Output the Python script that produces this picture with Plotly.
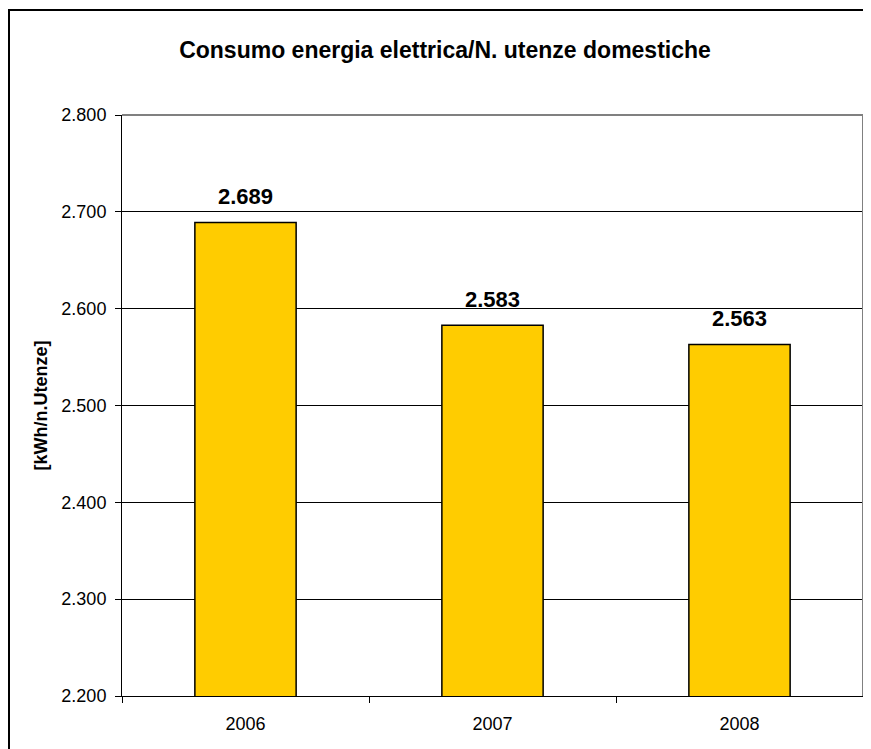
import plotly.graph_objects as go

years = ["2006", "2007", "2008"]
values = [2689, 2583, 2563]
labels = ["2.689", "2.583", "2.563"]
y_ticks = [2200, 2300, 2400, 2500, 2600, 2700, 2800]
y_tick_text = ["2.200", "2.300", "2.400", "2.500", "2.600", "2.700", "2.800"]

# page body has an 8px margin, so the figure is drawn 8px in from the window corner
OFF = 8
W, H = 871 - OFF, 749 - OFF
L, R, T, B = 122 - OFF, 871 - 863, 115 - OFF, 749 - 696
pw = W - L - R
ph = H - T - B

FONT = "Liberation Sans, Arial"

fig = go.Figure()
fig.add_trace(go.Bar(
    x=years, y=values,
    marker=dict(color="#FFCC00", line=dict(color="black", width=1.5)),
    showlegend=False, hoverinfo="skip",
))

for i, (v, t) in enumerate(zip(values, labels)):
    fig.add_annotation(x=i, y=v, text="<b>%s</b>" % t, showarrow=False,
                       yanchor="bottom", yshift=11,
                       font=dict(family=FONT, size=22, color="black"))

fig.update_layout(
    width=W, height=H,
    margin=dict(l=L, r=R, t=T, b=B),
    paper_bgcolor="white", plot_bgcolor="white",
    bargap=0.59,
    font=dict(family=FONT, color="black"),
    title=dict(text="<b>Consumo energia elettrica/N. utenze domestiche</b>",
               x=(445 - OFF) / W, xanchor="center", y=1 - (50 - OFF) / H, yanchor="middle",
               font=dict(size=23, color="black")),
)

fig.update_xaxes(
    type="category", range=[-0.5, len(years) - 0.5], autorange=False,
    showline=True, linecolor="black", linewidth=1,
    ticks="outside", ticklen=6, tickcolor="black", tickson="boundaries",
    tickfont=dict(size=18, color="black"), showgrid=False, automargin=False,
    tickangle=0, ticklabelstandoff=11,
)
fig.update_yaxes(
    range=[2200, 2800], tickvals=y_ticks, ticktext=y_tick_text,
    showline=True, linecolor="black", linewidth=1,
    ticks="outside", ticklen=6, tickcolor="black", ticklabelstandoff=5,
    showgrid=True, gridcolor="black", gridwidth=1,
    tickfont=dict(size=18, color="black"),
    title=dict(text="<b>[kWh/n.Utenze]</b>", font=dict(size=18, color="black"), standoff=9),
    zeroline=False, automargin=False,
)

# plot area frame (top & right, gray)
fig.add_shape(type="line", xref="paper", yref="paper", x0=0, x1=1, y0=1, y1=1,
              line=dict(color="#808080", width=2), layer="above")
fig.add_shape(type="line", xref="paper", yref="paper", x0=1, x1=1, y0=0, y1=1,
              line=dict(color="#808080", width=2), layer="above")

# outer chart border
bx0, by0 = 9 - OFF, 10 - OFF
fig.add_shape(type="rect", xref="paper", yref="paper",
              x0=(bx0 - L) / pw, x1=(W + 10 - L) / pw,
              y0=-(H + 10 - (T + ph)) / ph,
              y1=(T + ph - by0) / ph,
              line=dict(color="black", width=2), fillcolor="rgba(0,0,0,0)", layer="above")

fig.write_html("out.html")
